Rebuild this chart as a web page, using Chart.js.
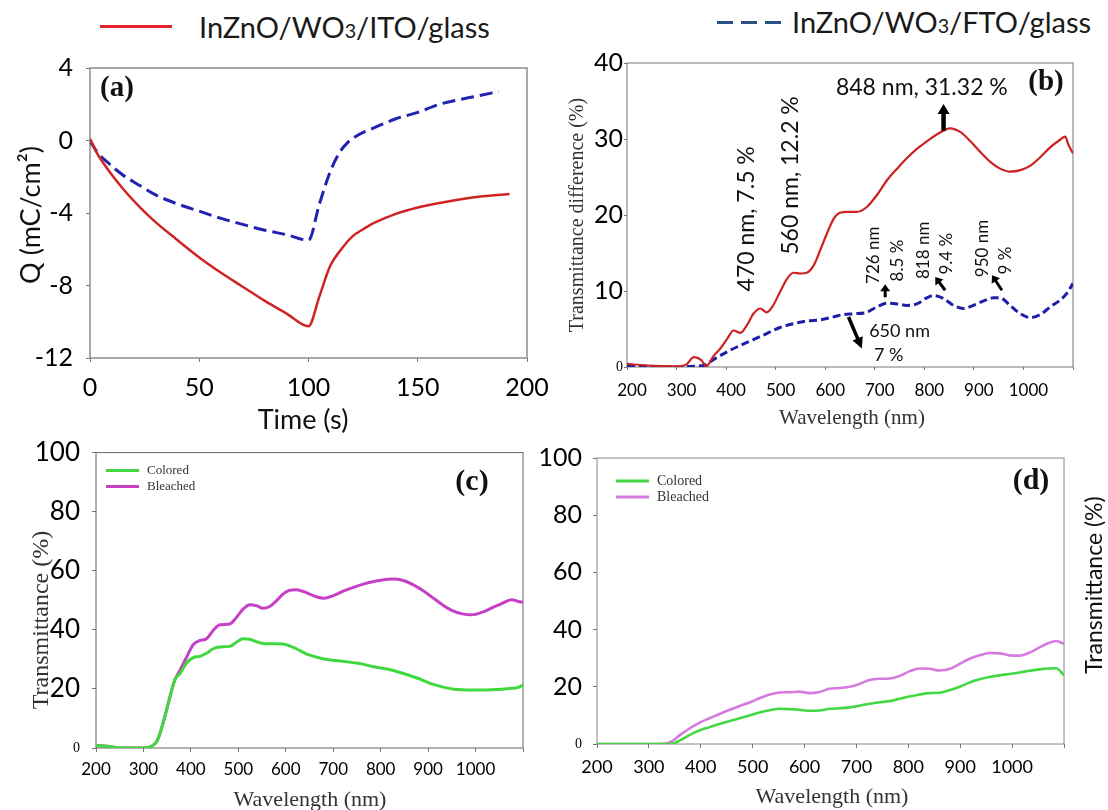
<!DOCTYPE html>
<html>
<head>
<meta charset="utf-8">
<script src="https://cdn.jsdelivr.net/npm/chart.js@4.4.1/dist/chart.umd.min.js"></script>
<style>
html,body{margin:0;padding:0;background:#fff;}
body{width:1108px;height:810px;overflow:hidden;position:relative;}
.pane{position:absolute;}
.leg{position:absolute;font-family:Lato,"Open Sans",sans-serif;font-size:29px;color:#1a1a1a;line-height:1;white-space:nowrap;}
.leg span{font-size:0.68em;}
</style>
</head>
<body>
<div style="position:absolute;left:100px;top:25px;width:72px;height:3px;background:#e3232b"></div>
<div class="leg" style="left:199px;top:12px">InZnO/WO<span>3</span>/ITO/glass</div>
<div style="position:absolute;left:717px;top:21px;width:64px;height:3px;background:repeating-linear-gradient(90deg,#2b4f80 0 16px,transparent 16px 24px)"></div>
<div class="leg" style="left:792px;top:7px">InZnO/WO<span>3</span>/FTO/glass</div>

<div class="pane" style="left:0;top:40px"><canvas id="ca" width="560" height="400"></canvas></div>
<div class="pane" style="left:560px;top:40px"><canvas id="cb" width="548" height="400"></canvas></div>
<div class="pane" style="left:0;top:425px"><canvas id="cc" width="530" height="385"></canvas></div>
<div class="pane" style="left:530px;top:425px"><canvas id="cd" width="578" height="385"></canvas></div>

<script>
// ---------- Panel (a): charge density vs time ----------
const aRedTime  = [0, 3, 7.6, 15, 23, 30, 38, 50, 60, 69, 80, 90, 100, 105, 110, 115, 120, 125, 130, 140, 150, 160, 175, 192];
const aRedQ     = [0.1, -0.65, -1.5, -2.65, -3.7, -4.5, -5.3, -6.45, -7.3, -8.0, -8.85, -9.55, -10.25, -8.6, -6.9, -6.0, -5.3, -4.9, -4.55, -4.05, -3.7, -3.45, -3.15, -2.95];
const aBlueTime = [0, 3, 8, 15, 23, 30, 40, 50, 60, 69, 80, 90, 100, 105, 110, 114, 118, 122, 126, 130, 140, 150, 160, 175, 187];
const aBlueQ    = [0, -0.6, -1.2, -1.9, -2.5, -3.0, -3.5, -3.9, -4.3, -4.6, -4.95, -5.2, -5.5, -3.5, -1.7, -0.7, -0.1, 0.25, 0.5, 0.7, 1.2, 1.55, 2.0, 2.4, 2.7];
const aXTicks = [0, 50, 100, 150, 200];
const aXLabels = ['0', '50', '100', '150', '200'];
const aYTicks = [-12, -8, -4, 0, 4];
const aYLabels = ['-12', '-8', '-4', '0', '4'];

// ---------- Panel (b): transmittance difference ----------
const bRedWl   = [200, 240, 300, 320, 335, 350, 360, 375, 388, 402, 415, 429, 442, 455, 469, 482, 493, 509, 523, 536, 550, 563, 577, 590, 603, 617, 630, 644, 664, 684, 704, 725, 745, 765, 785, 805, 825, 842, 852, 873, 893, 913, 933, 953, 973, 994, 1014, 1034, 1054, 1074, 1084, 1091, 1100];
const bRedDiff = [0.4, 0.2, 0.1, 0.35, 1.3, 0.9, 0.1, 1.5, 2.4, 3.7, 4.8, 4.5, 5.5, 7.0, 7.7, 7.2, 7.9, 9.9, 11.6, 12.4, 12.3, 12.4, 13.4, 15.4, 17.5, 19.5, 20.3, 20.4, 20.4, 21.05, 22.6, 24.6, 26.1, 27.5, 28.7, 29.7, 30.6, 31.2, 31.4, 30.9, 29.7, 28.3, 27.0, 26.1, 25.7, 25.9, 26.5, 27.6, 28.9, 29.9, 30.3, 29.2, 28.1];
const bBlueWl   = [200, 240, 300, 334, 355, 375, 402, 429, 455, 482, 509, 536, 563, 590, 617, 637, 657, 684, 704, 725, 745, 765, 785, 805, 819, 839, 859, 879, 899, 920, 940, 953, 973, 994, 1014, 1034, 1054, 1074, 1087, 1100];
const bBlueDiff = [0.2, 0.1, 0, 0.1, 0.2, 1.0, 2.0, 2.85, 3.6, 4.4, 5.2, 5.7, 6.05, 6.2, 6.6, 6.9, 7.0, 7.2, 7.9, 8.4, 8.3, 8.1, 8.3, 9.1, 9.4, 9.0, 8.1, 7.7, 8.1, 8.7, 9.1, 9.1, 8.1, 7.0, 6.5, 6.9, 7.9, 8.8, 9.65, 11.0];
const bYTicks = [0, 10, 20, 30, 40];
const bYLabels = ['0', '10', '20', '30', '40'];

// ---------- Shared wavelength axis ----------
const wlTicks  = [200, 300, 400, 500, 600, 700, 800, 900, 1000, 1100];
const wlLabels = ['200', '300', '400', '500', '600', '700', '800', '900', '1000', ''];
const tTicks  = [0, 20, 40, 60, 80, 100];
const tLabels = ['0', '20', '40', '60', '80', '100'];

// ---------- Panel (c): InZnO/WO3/ITO ----------
const cWl       = [200, 223, 251, 300, 317, 328, 335, 345, 356, 366, 377, 391, 405, 419, 433, 447, 461, 482, 496, 510, 524, 538, 552, 566, 580, 594, 608, 622, 643, 664, 681, 699, 720, 741, 762, 783, 804, 825, 846, 867, 888, 909, 930, 951, 972, 992, 1013, 1034, 1055, 1076, 1090, 1100];
const cBleached = [0.8, 0.6, 0, 0, 0.6, 2.2, 5, 10.6, 17.4, 23, 26.3, 30.8, 35, 36.4, 37, 39.8, 41.7, 42, 44.2, 47, 48.5, 48.2, 47.3, 47.9, 49.8, 52.1, 53.4, 53.6, 52.6, 51.2, 50.7, 51.5, 53, 54.3, 55.4, 56.3, 56.9, 57.2, 56.8, 55.4, 53.4, 51, 48.5, 46.5, 45.4, 45.1, 45.9, 47.4, 48.9, 50.2, 49.6, 49.3];
const cColored  = [0.8, 0.6, 0, 0, 0.6, 2.2, 5, 10.6, 17.4, 23, 25.2, 28.8, 30.6, 31, 32.1, 33.6, 34.2, 34.4, 35.8, 37, 36.8, 36, 35.4, 35.3, 35.3, 35.2, 34.6, 33.6, 31.9, 30.8, 30.1, 29.7, 29.4, 28.9, 28.4, 27.6, 27.0, 26.3, 25.3, 24.2, 23.0, 21.6, 20.7, 20.0, 19.7, 19.6, 19.6, 19.7, 19.9, 20.2, 20.5, 21.3];

// ---------- Panel (d): InZnO/WO3/FTO ----------
const dWl       = [200, 300, 334, 343, 359, 379, 398, 417, 436, 456, 475, 494, 513, 533, 552, 571, 590, 610, 629, 648, 668, 687, 706, 725, 745, 764, 783, 802, 822, 841, 860, 879, 899, 918, 937, 956, 976, 995, 1014, 1034, 1053, 1070, 1085, 1100];
const dBleached = [0, 0, 0.2, 0.8, 3.0, 5.5, 7.5, 9.0, 10.5, 12, 13.3, 14.5, 16, 17.3, 18, 18.1, 18.3, 17.8, 18.2, 19.3, 19.6, 20, 21, 22.4, 22.8, 22.9, 23.8, 25.4, 26.4, 26.3, 25.7, 26.2, 28, 29.8, 31, 31.8, 31.7, 31, 30.9, 32, 33.8, 35.3, 36, 35];
const dColored  = [0, 0, 0, 0, 1.2, 3.2, 4.8, 5.9, 7.0, 8.0, 9.0, 10.0, 11.0, 11.8, 12.3, 12.2, 12.0, 11.6, 11.7, 12.3, 12.5, 12.8, 13.4, 14.1, 14.6, 15.0, 15.8, 16.6, 17.3, 17.8, 17.9, 18.8, 20, 21.5, 22.6, 23.4, 24, 24.5, 25, 25.6, 26.1, 26.4, 26.5, 24];

// ---------- annotations of (b) (data coordinates) ----------
const bNotes = [
  {t: '848 nm, 31.32 %', x: 795, y: 36.8, size: 23, rot: 0},
  {t: '470 nm, 7.5 %', x: 442, y: 19.5, size: 23, rot: -90},
  {t: '560 nm, 12.2 %', x: 529.5, y: 25.2, size: 23, rot: -90},
  {t: '726 nm', x: 698, y: 14.7, size: 17, rot: -90},
  {t: '8.5 %', x: 745, y: 14.0, size: 17, rot: -90},
  {t: '818 nm', x: 798.5, y: 15.35, size: 17, rot: -90},
  {t: '9.4 %', x: 845, y: 14.9, size: 17, rot: -90},
  {t: '950 nm', x: 917, y: 15.6, size: 17, rot: -90},
  {t: '9 %', x: 963, y: 14.0, size: 17, rot: -90},
  {t: '650 nm', x: 750, y: 4.74, size: 18, rot: 0},
  {t: '7 %', x: 728, y: 1.54, size: 18, rot: 0}
];
const bArrows = [
  {x1: 838.8, y1: 31.1, x2: 838.8, y2: 34.6, w: 4.5, hl: 10, hw: 12},
  {x1: 721, y1: 9.17, x2: 721, y2: 10.9, w: 3, hl: 7, hw: 10},
  {x1: 842, y1: 10.1, x2: 822, y2: 11.85, w: 3, hl: 7, hw: 10},
  {x1: 956.6, y1: 10.1, x2: 936.5, y2: 12.07, w: 3, hl: 7, hw: 10},
  {x1: 647, y1: 6.58, x2: 674, y2: 2.42, w: 3.5, hl: 11, hw: 11}
];

const SANS = 'Lato, "Open Sans", sans-serif';
const SERIF = '"Liberation Serif", "Times New Roman", serif';

function pts(xs, ys) { return xs.map((x, i) => ({x: x, y: ys[i]})); }

function drawText(ctx, s, x, y, font, color, rot, align) {
  ctx.save();
  ctx.translate(x, y);
  if (rot) ctx.rotate(rot * Math.PI / 180);
  ctx.font = font;
  ctx.fillStyle = color || '#000';
  ctx.textAlign = align || 'center';
  ctx.textBaseline = 'middle';
  ctx.fillText(s, 0, 0);
  ctx.restore();
}

function arrow(ctx, x1, y1, x2, y2, w, hl, hw) {
  const ang = Math.atan2(y2 - y1, x2 - x1);
  const len = Math.hypot(x2 - x1, y2 - y1);
  ctx.save();
  ctx.translate(x2, y2);
  ctx.rotate(ang);
  ctx.fillStyle = '#000';
  ctx.fillRect(-len, -w / 2, len - hl + 1, w);
  ctx.beginPath();
  ctx.moveTo(0, 0);
  ctx.lineTo(-hl, -hw / 2);
  ctx.lineTo(-hl, hw / 2);
  ctx.closePath();
  ctx.fill();
  ctx.restore();
}

function axisX(min, max, ticks, labels, o) {
  return {
    type: 'linear', min: min, max: max,
    afterBuildTicks: s => { s.ticks = ticks.map(v => ({value: v})); },
    afterFit: s => { s.height = o.h; },
    grid: {drawOnChartArea: false, drawTicks: true, tickLength: o.tl, color: o.gc || '#777', lineWidth: 1},
    border: {display: false},
    ticks: {autoSkip: false, maxRotation: 0, minRotation: 0, padding: o.pad, color: '#000',
      labelOffset: o.lo || 0, font: {family: SANS, size: o.fs}, callback: (v, i) => labels[i]}
  };
}
function axisY(min, max, ticks, labels, o) {
  return {
    type: 'linear', min: min, max: max,
    afterBuildTicks: s => { s.ticks = ticks.map(v => ({value: v})); },
    afterFit: s => { s.width = o.w; },
    grid: {drawOnChartArea: false, drawTicks: true, tickLength: o.tl, color: o.gc || '#777', lineWidth: 1},
    border: {display: false},
    ticks: {autoSkip: false, padding: o.pad, color: '#000',
      font: c => (o.small && c.tick && c.tick.value === 0) ? {family: SERIF, size: 14} : {family: SANS, size: o.fs},
      callback: (v, i) => labels[i]}
  };
}
function ds(data, color, width, dash) {
  return {data: data, borderColor: color, borderWidth: width, borderDash: dash || [], pointRadius: 0,
    fill: false, cubicInterpolationMode: 'monotone', tension: 0};
}
function deco(frameColor, frameWidth, fn) {
  return {
    id: 'deco',
    beforeDatasetsDraw(chart) {
      const a = chart.chartArea, ctx = chart.ctx;
      ctx.save();
      ctx.strokeStyle = frameColor;
      ctx.lineWidth = frameWidth;
      ctx.strokeRect(a.left, a.top, a.right - a.left, a.bottom - a.top);
      ctx.restore();
    },
    afterDraw(chart) { fn(chart, chart.ctx, chart.chartArea); }
  };
}
function baseOpts(pad, xs, ys) {
  return {
    responsive: false, animation: false,
    layout: {padding: pad},
    plugins: {legend: {display: false}, tooltip: {enabled: false}},
    scales: {x: xs, y: ys}
  };
}
function innerLegend(ctx, a, dx, dy, gap, size, greenC, magC) {
  const items = [['Colored', greenC], ['Bleached', magC]];
  items.forEach((it, i) => {
    const y = a.top + dy + i * gap;
    ctx.save();
    ctx.strokeStyle = it[1];
    ctx.lineWidth = 3;
    ctx.beginPath();
    ctx.moveTo(a.left + dx, y);
    ctx.lineTo(a.left + dx + 33, y);
    ctx.stroke();
    ctx.restore();
    drawText(ctx, it[0], a.left + dx + 41, y, size + 'px ' + SERIF, '#333', 0, 'left');
  });
}

// (a)
new Chart(document.getElementById('ca'), {
  type: 'line',
  data: {datasets: [
    ds(pts(aRedTime, aRedQ), '#d02424', 2.5),
    ds(pts(aBlueTime, aBlueQ), '#2222b2', 3, [13, 6])
  ]},
  options: baseOpts({left: 0, top: 20, right: 33, bottom: 0},
    axisX(0, 200, aXTicks, aXLabels, {h: 82, tl: 4, pad: 11, fs: 25}),
    axisY(-12, 4, aYTicks, aYLabels, {w: 90, tl: 4, pad: 13, fs: 25})),
  plugins: [deco('#8c8c8c', 1.5, (chart, ctx, a) => {
    drawText(ctx, '(a)', a.left + 27, a.top + 21, 'bold 29px ' + SERIF, '#111');
    drawText(ctx, 'Time (s)', 303, 380, '27px ' + SANS, '#111');
    drawText(ctx, 'Q (mC/cm²)', 31, 175, '27px ' + SANS, '#111', -90);
  })]
});

// (b)
new Chart(document.getElementById('cb'), {
  type: 'line',
  data: {datasets: [
    ds(pts(bRedWl, bRedDiff), '#cc2222', 2.2),
    ds(pts(bBlueWl, bBlueDiff), '#1e1eaa', 3, [8, 4])
  ]},
  options: baseOpts({left: 0, top: 23, right: 35, bottom: 0},
    axisX(200, 1100, wlTicks, wlLabels, {h: 73, tl: 3, pad: 10, fs: 17, lo: 5}),
    axisY(0, 40, bYTicks, bYLabels, {w: 67, tl: 3, pad: 1, fs: 25, small: true})),
  plugins: [deco('#777', 1, (chart, ctx, a) => {
    const xs = chart.scales.x, ys = chart.scales.y;
    drawText(ctx, '(b)', a.right - 27, a.top + 20, 'bold 29px ' + SERIF, '#111');
    drawText(ctx, 'Wavelength (nm)', 292, 378, '21px ' + SERIF, '#333');
    drawText(ctx, 'Transmittance difference (%)', 18, 175, '20px ' + SERIF, '#333', -90);
    bNotes.forEach(n => drawText(ctx, n.t, xs.getPixelForValue(n.x), ys.getPixelForValue(n.y),
      n.size + 'px ' + SANS, '#111', n.rot));
    bArrows.forEach(r => arrow(ctx, xs.getPixelForValue(r.x1), ys.getPixelForValue(r.y1),
      xs.getPixelForValue(r.x2), ys.getPixelForValue(r.y2), r.w, r.hl, r.hw));
  })]
});

// (c)
new Chart(document.getElementById('cc'), {
  type: 'line',
  data: {datasets: [
    ds(pts(cWl, cColored), '#3fd93f', 3),
    ds(pts(cWl, cBleached), '#c640c6', 3)
  ]},
  options: baseOpts({left: 0, top: 26, right: 6, bottom: 0},
    axisX(200, 1100, wlTicks, wlLabels, {h: 62, tl: 4, pad: 7, fs: 17}),
    axisY(0, 100, tTicks, tLabels, {w: 96, tl: 4, pad: 12, fs: 26, small: true})),
  plugins: [deco('#666', 1, (chart, ctx, a) => {
    drawText(ctx, '(c)', a.right - 51, a.top + 30, 'bold 30px ' + SERIF, '#111');
    drawText(ctx, 'Wavelength (nm)', 310, 375, '22px ' + SERIF, '#333');
    drawText(ctx, 'Transmittance (%)', 42, 195, '24px ' + SERIF, '#333', -90);
    innerLegend(ctx, a, 10, 18, 16, 13, '#3fd93f', '#c640c6');
  })]
});

// (d)
new Chart(document.getElementById('cd'), {
  type: 'line',
  data: {datasets: [
    ds(pts(dWl, dColored), '#44d944', 2.6),
    ds(pts(dWl, dBleached), '#d57ade', 2.6)
  ]},
  options: baseOpts({left: 0, top: 33, right: 44, bottom: 0},
    axisX(200, 1100, wlTicks, wlLabels, {h: 66, tl: 4, pad: 8, fs: 18}),
    axisY(0, 100, tTicks, tLabels, {w: 67, tl: 4, pad: 11, fs: 25, small: true})),
  plugins: [deco('#888', 1, (chart, ctx, a) => {
    drawText(ctx, '(d)', a.right - 33, a.top + 23, 'bold 30px ' + SERIF, '#111');
    drawText(ctx, 'Wavelength (nm)', 302, 372, '22px ' + SERIF, '#333');
    drawText(ctx, 'Transmittance (%)', 565, 160, '23px ' + SANS, '#111', -90);
    innerLegend(ctx, a, 19, 23, 16, 14, '#44d944', '#d57ade');
  })]
});
</script>
</body>
</html>
